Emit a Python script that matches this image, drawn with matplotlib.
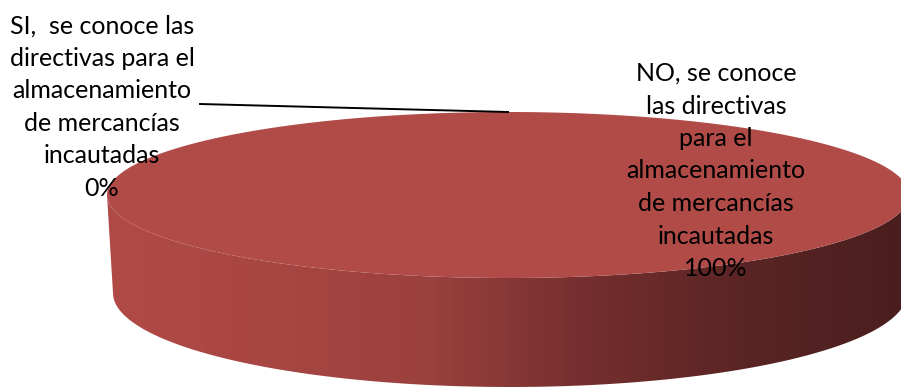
import numpy as np
import matplotlib
matplotlib.use('Agg')
import matplotlib.pyplot as plt
from matplotlib.patches import Polygon
from matplotlib.colors import LinearSegmentedColormap

# data
labels = ["SI,  se conoce las\ndirectivas para el\nalmacenamiento\nde mercancías\nincautadas",
          "NO, se conoce\nlas directivas\npara el\nalmacenamiento\nde mercancías\nincautadas"]
values = [0, 100]

# 3d pie geometry (pixels, y down)
cx, cy, rx, ry = 508, 195, 401, 83        # top face
bcx, bcy, brx, bry = 510, 293, 397, 94    # bottom face
top_color = '#B04B48'
side_cmap = LinearSegmentedColormap.from_list(
    'side', ['#B04A47', '#A84643', '#9B413E', '#732E2D', '#5A2424', '#4A1E1E'])

plt.rcParams['font.family'] = ['Lato', 'DejaVu Sans']

fig = plt.figure(figsize=(9.01, 3.9), dpi=100)
ax = fig.add_axes([0, 0, 1, 1])
ax.set_xlim(0, 901)
ax.set_ylim(390, 0)
ax.axis('off')

total = float(sum(values))
# start at the back (top) and go clockwise -> in y-down coords angle increases
start = -np.pi / 2
angles = []
for v in values:
    span = 2 * np.pi * v / total
    angles.append((start, start + span))
    start += span


def ell(t, x0, y0, a, b):
    return np.column_stack([x0 + a * np.cos(t), y0 + b * np.sin(t)])


for (t0, t1), v in zip(angles, values):
    if v == 0:
        continue
    # side: visible front part of the arc (0..pi)
    if v < total:
        lo = max(t0 % (2 * np.pi), 0)
        hi = min(lo + (t1 - t0), np.pi)
    else:
        lo, hi = 0, np.pi
    if hi > lo:
        t = np.linspace(lo, hi, 200)
        side = np.vstack([ell(t, cx, cy, rx, ry), ell(t[::-1], bcx, bcy, brx, bry)])
        poly = Polygon(side, closed=True, facecolor='none', edgecolor='none')
        ax.add_patch(poly)
        grad = np.linspace(0, 1, 256).reshape(1, -1)
        im = ax.imshow(grad, cmap=side_cmap, aspect='auto',
                       extent=[cx - rx, cx + rx, bcy + bry, cy], zorder=1)
        im.set_clip_path(poly)
    # top face
    t = np.linspace(t0, t1, 400)
    pts = ell(t, cx, cy, rx, ry)
    if v < total:
        pts = np.vstack([[cx, cy], pts])
    ax.add_patch(Polygon(pts, closed=True, facecolor=top_color,
                         edgecolor='none', zorder=2))

# labels
for (t0, t1), v, lab in zip(angles, values, labels):
    pct = f"{v / total * 100:.0f}%"
    if v == 0:
        tip = ell(np.array([t0]), cx, cy, rx, ry)[0]
        ax.plot([200, tip[0]], [104, tip[1]], color='black', lw=1.4, zorder=3)
        ax.text(102, 107, lab + "\n" + pct, ha='center', va='center',
                fontsize=18, linespacing=1.5, zorder=4)
    else:
        ax.text(716, 171, lab + "\n" + pct, ha='center', va='center',
                fontsize=18, linespacing=1.5, zorder=4)

fig.savefig('out.png', dpi=100)
